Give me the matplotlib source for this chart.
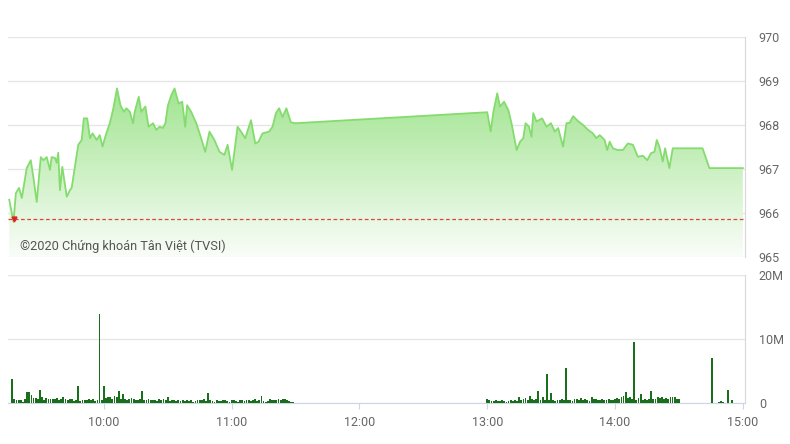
import numpy as np
import matplotlib
matplotlib.use("Agg")
import matplotlib.pyplot as plt
from matplotlib.colors import LinearSegmentedColormap
from matplotlib.patches import Polygon

plt.rcParams['font.family'] = ['Roboto', 'DejaVu Sans']

# price, minutes after midnight (morning session)
times_am = [555.6, 557.6, 558.7, 560.2, 561.5, 563.8, 565.7, 566.9, 568.5, 570.4,
            571.6, 573.2, 574.7, 575.5, 577.1, 577.9, 578.6, 579.4, 580.5, 582.6,
            584.1, 584.9, 586.4, 588.0, 589.6, 590.6, 592.2, 593.5, 594.7, 596.6,
            598.1, 599.4, 600.9, 602.8, 604.3, 606.2, 607.8, 609.4, 610.6, 612.2,
            613.7, 614.5, 616.4, 617.6, 619.5, 621.0, 623.1, 624.6, 626.2, 627.7,
            628.9, 630.1, 631.7, 633.2, 635.1, 636.8, 638.2, 639.1, 641.0, 643.4,
            645.7, 647.6, 649.6, 651.9, 654.3, 656.6, 658.1, 660.2, 662.8, 664.4,
            666.4, 669.1, 671.1, 672.6, 674.5, 677.6, 679.2, 680.8, 682.3, 683.9,
            685.7, 687.8, 690.0]
prices_am = [966.30, 965.80, 966.45, 966.57, 966.34, 967.02, 967.20, 966.82, 966.25, 967.27,
             967.20, 967.27, 966.98, 967.27, 967.25, 967.14, 967.37, 966.52, 967.05, 966.37,
             966.52, 966.57, 967.05, 967.55, 967.66, 968.15, 968.15, 967.70, 967.81, 967.66,
             967.77, 967.51, 967.77, 968.04, 968.34, 968.83, 968.45, 968.30, 968.38, 968.30,
             968.04, 968.30, 968.64, 968.30, 968.42, 967.96, 968.04, 967.89, 967.96, 967.93,
             968.04, 968.45, 968.68, 968.83, 968.49, 968.53, 967.96, 968.45, 968.30, 968.04,
             967.70, 967.39, 967.85, 967.66, 967.39, 967.32, 967.55, 966.98, 967.96, 967.85,
             967.70, 968.11, 967.58, 967.62, 967.81, 967.85, 967.96, 968.27, 968.38, 968.18,
             968.38, 968.06, 968.04]

# afternoon session
times_pm = [780.0, 781.6, 782.9, 784.7, 786.0, 787.9, 789.9, 791.4, 793.8, 795.4,
            796.9, 798.0, 799.6, 800.8, 801.6, 803.1, 804.2, 805.8, 807.8, 809.9,
            811.7, 813.3, 815.6, 817.2, 818.7, 820.3, 822.6, 825.0, 827.3, 829.6,
            831.2, 832.8, 835.1, 836.3, 837.5, 839.0, 841.3, 843.7, 846.0, 848.4,
            850.7, 853.1, 855.1, 856.9, 858.5, 859.6, 860.8, 862.4, 863.5, 865.5,
            867.1, 881.1, 884.3, 900.0]
prices_pm = [968.29, 967.85, 968.30, 968.72, 968.42, 968.53, 968.34, 968.04, 967.43, 967.62,
             967.70, 968.04, 967.96, 967.73, 968.27, 968.08, 968.11, 968.15, 967.96, 968.04,
             967.85, 967.93, 967.51, 968.04, 968.05, 968.20, 968.09, 968.00, 967.89, 967.81,
             967.70, 967.77, 967.66, 967.43, 967.62, 967.47, 967.43, 967.43, 967.58, 967.55,
             967.28, 967.30, 967.20, 967.36, 967.39, 967.66, 967.51, 967.17, 967.47, 967.02,
             967.47, 967.47, 967.02, 967.02]

ref_price = 965.87

# volume (millions), one bar per minute
vol_am_start = 557
vol_am = [3.75, 0.6, 0.5, 0.5, 0.5, 0.2, 0.6, 1.7, 1.7, 1.2,
          0.8, 0.8, 0.7, 2.0, 0.9, 0.5, 0.8, 0.6, 0.6, 0.7,
          0.6, 0.8, 0.5, 0.6, 0.9, 0.6, 0.4, 0.7, 0.6, 0.3,
          0.5, 2.7, 0.3, 0.4, 0.5, 0.4, 0.6, 0.5, 0.6, 0.3,
          0.5, 13.9, 0.5, 2.7, 0.8, 1.0, 0.9, 0.7, 1.1, 0.9,
          1.9, 0.7, 1.4, 0.6, 0.5, 0.7, 0.8, 0.6, 0.4, 0.5,
          0.7, 1.9, 0.5, 0.4, 0.6, 0.4, 0.5, 0.4, 0.3, 0.6,
          0.4, 0.7, 0.4, 0.9, 0.3, 0.4, 0.5, 0.3, 0.4, 0.3,
          0.5, 0.3, 0.4, 0.3, 0.4, 0.2, 0.3, 0.4, 0.5, 0.4,
          0.6, 0.3, 1.5, 0.4, 0.3, 0.2, 0.4, 0.3, 0.3, 0.4,
          0.5, 0.3, 0.2, 0.4, 0.5, 0.3, 0.2, 0.4, 0.5, 0.3,
          0.4, 0.5, 0.3, 0.4, 0.6, 0.3, 0.4, 1.1, 0.3, 0.2,
          0.3, 0.6, 0.4, 0.5, 0.4, 0.6, 0.5, 0.7, 0.7, 0.4,
          0.3, 0.2, 0.2]
vol_pm_start = 780
vol_pm = [0.7, 0.4, 0.3, 0.3, 0.4, 0.3, 0.3, 0.4, 0.3, 0.2,
          0.3, 0.4, 0.3, 0.5, 0.3, 0.9, 0.5, 0.7, 0.8, 0.5,
          1.1, 0.6, 0.5, 0.7, 1.8, 0.4, 1.0, 0.5, 4.5, 0.5,
          1.5, 0.4, 0.3, 0.5, 0.4, 0.6, 0.4, 5.4, 0.5, 0.4,
          0.3, 0.7, 0.6, 0.5, 0.8, 0.4, 0.7, 0.5, 0.3, 0.9,
          0.6, 0.7, 0.4, 0.5, 0.6, 0.4, 0.5, 0.7, 0.5, 0.4,
          0.6, 0.8, 0.7, 0.9, 1.1, 1.7, 0.8, 1.0, 0.6, 9.6,
          0.5, 0.8, 1.35, 0.4, 0.6, 0.5, 0.7, 1.9, 0.6, 0.7,
          0.9, 0.8, 0.9, 0.6, 0.8, 0.7, 0.9, 1.0, 0.9, 0.7,
          0.7]
late_times = [885.4, 888.9, 889.9, 890.6, 893.2, 894.8]
late_vol = [7.0, 0.15, 0.25, 0.2, 2.0, 0.45]

x_ticks = [600, 660, 720, 780, 840, 900]
x_labels = ['10:00', '11:00', '12:00', '13:00', '14:00', '15:00']

grid_c = '#e6e6e6'
text_c = '#666666'
axis_c = '#ccd6eb'

fig = plt.figure(figsize=(7.9, 4.44), dpi=100)
ax1 = fig.add_axes([0.0101, 0.4212, 0.9329, 0.4955])
ax2 = fig.add_axes([0.0101, 0.0923, 0.9329, 0.2883])

t_all = np.array(times_am + times_pm)
p_all = np.array(prices_am + prices_pm)
xmin, xmax = 555, 901

# gradient area
verts = np.vstack([np.column_stack([t_all, p_all]),
                   [[t_all[-1], 965], [t_all[0], 965]]])
patch = Polygon(verts, closed=True, facecolor='none', edgecolor='none')
ax1.add_patch(patch)
cmap = LinearSegmentedColormap.from_list('g', ['#fafdf9', '#86dd70'])
grad = np.linspace(0, 1, 256).reshape(-1, 1)
im = ax1.imshow(grad, cmap=cmap, extent=[xmin, xmax, 965, 970], origin='lower',
                aspect='auto', zorder=1)
im.set_clip_path(patch)
ax1.plot(t_all, p_all, color='#84dc6e', lw=1.3, zorder=3)
ax1.axhline(ref_price, color='#d9453f', lw=0.9, ls=(0, (3, 2)), zorder=4)
ax1.plot([times_am[1]], [ref_price], marker='v', color='#e02020', ms=3.5, zorder=5)

ax1.set_xlim(xmin, xmax)
ax1.set_ylim(965, 970)
ax1.set_yticks([965, 966, 967, 968, 969, 970])
ax1.yaxis.tick_right()
ax1.tick_params(axis='y', length=0, pad=10, labelsize=9, labelcolor=text_c)
ax1.set_xticks([])
ax1.grid(axis='y', color=grid_c, lw=1, zorder=0)
ax1.set_axisbelow(True)
for s in ['left', 'top', 'bottom']:
    ax1.spines[s].set_visible(False)
ax1.spines['right'].set_color('#d8d8d8')
ax1.text(0.016, 0.05, '©2020 Chứng khoán Tân Việt (TVSI)', transform=ax1.transAxes,
         fontsize=9.2, color='#555555', va='center', ha='left', zorder=6)

# volume
t_am = vol_am_start + np.arange(len(vol_am))
t_pm = vol_pm_start + np.arange(len(vol_pm))
bar_c = '#1a701a'
ax2.bar(t_am, vol_am, width=0.85, color=bar_c, lw=0, zorder=3)
ax2.bar(t_pm, vol_pm, width=0.85, color=bar_c, lw=0, zorder=3)
ax2.bar(late_times, late_vol, width=0.85, color=bar_c, lw=0, zorder=3)
ax2.set_xlim(xmin, xmax)
ax2.set_ylim(0, 20)
ax2.set_yticks([0, 10, 20])
ax2.set_yticklabels(['0', '10M', '20M'])
ax2.yaxis.tick_right()
ax2.tick_params(axis='y', length=0, pad=10, labelsize=9, labelcolor=text_c)
ax2.set_xticks(x_ticks)
ax2.set_xticklabels(x_labels)
ax2.tick_params(axis='x', direction='out', length=4.5, color=axis_c, pad=5,
                labelsize=9, labelcolor=text_c)
ax2.grid(axis='y', color=grid_c, lw=1, zorder=0)
ax2.set_axisbelow(True)
for s in ['left', 'top']:
    ax2.spines[s].set_visible(False)
ax2.spines['right'].set_color('#d8d8d8')
ax2.spines['bottom'].set_color(axis_c)

fig.savefig('out.png', dpi=100)
